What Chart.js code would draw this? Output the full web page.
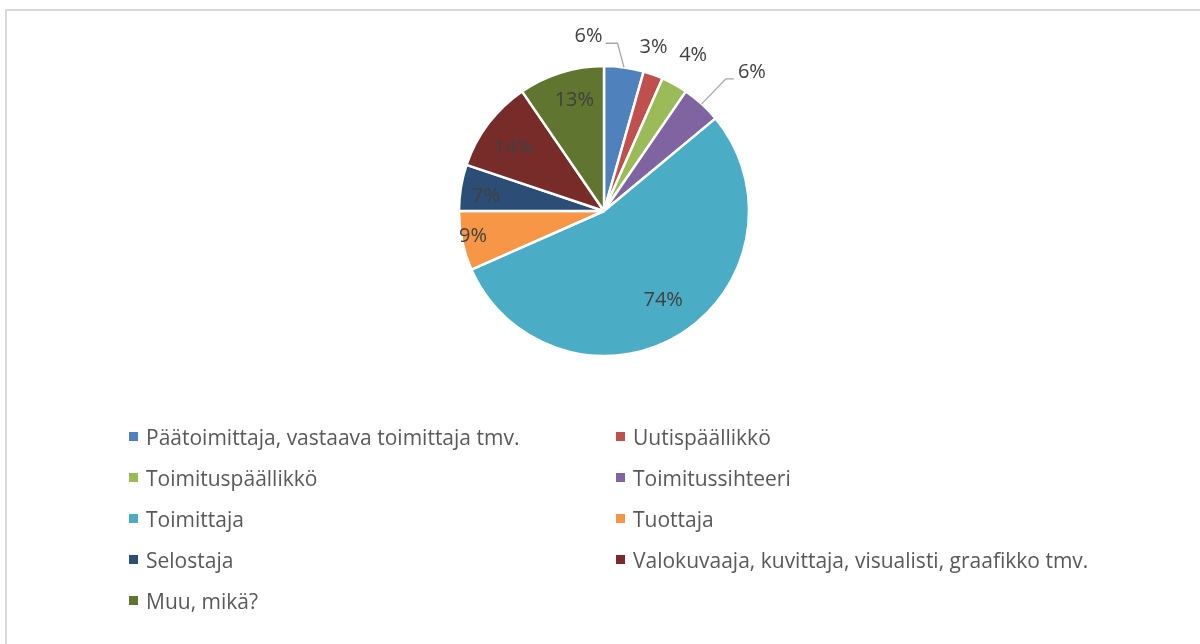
<!DOCTYPE html>
<html>
<head>
<meta charset="utf-8">
<script src="https://cdn.jsdelivr.net/npm/chart.js@4.4.1/dist/chart.umd.min.js"></script>
<style>
  html, body { margin: 0; padding: 0; background: #fff; overflow: hidden; }
  body { width: 1200px; height: 644px; position: relative; font-family: "Open Sans", "Noto Sans", sans-serif; }
  #frame { position: absolute; left: 5px; top: 9px; width: 1300px; height: 700px; border: 2px solid #d9d9d9; box-sizing: border-box; }
  #pie { position: absolute; left: 0; top: 0; }
  #legend { position: absolute; left: 129px; top: 416px; width: 1000px; display: grid; grid-template-columns: 487px 500px; grid-auto-rows: 41px; }
  .item { display: flex; align-items: center; height: 41px; color: #595959; font-size: 21px; white-space: nowrap; }
  .box { width: 9px; height: 9px; margin-right: 8px; flex: none; }
</style>
</head>
<body>
<div id="frame"></div>
<canvas id="pie" width="1200" height="644"></canvas>
<div id="legend"></div>
<script>
const roles = [
  "Päätoimittaja, vastaava toimittaja tmv.",
  "Uutispäällikkö",
  "Toimituspäällikkö",
  "Toimitussihteeri",
  "Toimittaja",
  "Tuottaja",
  "Selostaja",
  "Valokuvaaja, kuvittaja, visualisti, graafikko tmv.",
  "Muu, mikä?"
];
const shares = [6, 3, 4, 6, 74, 9, 7, 14, 13];
const sliceColors = ["#4f81bd", "#c0504d", "#9bbb59", "#8064a2", "#4bacc6", "#f79646", "#2c4d75", "#772c2a", "#5f7530"];

// label placement per slice: r = fraction of radius, da = angle shift (deg), leader line or not
const labelPlacement = [
  { r: 1.21, da: -13, leader: "right" },
  { r: 1.18, da: -3 },
  { r: 1.24, da: 0.6 },
  { r: 1.4, da: 4.4, leader: "left" },
  { r: 0.74, da: -1.7 },
  { r: 0.92, da: 1.1 },
  { r: 0.82, da: -2.3 },
  { r: 0.76, da: -2.3 },
  { r: 0.79, da: 2.2 }
];

const pieLabels = {
  id: "pieLabels",
  afterDatasetsDraw(chart) {
    const ctx = chart.ctx;
    const arcs = chart.getDatasetMeta(0).data;
    ctx.save();
    ctx.font = "20px 'Open Sans', 'Noto Sans', sans-serif";
    ctx.textAlign = "center";
    ctx.textBaseline = "middle";
    arcs.forEach((arc, i) => {
      const { x, y, startAngle, endAngle, outerRadius } = arc.getProps(["x", "y", "startAngle", "endAngle", "outerRadius"], true);
      const p = labelPlacement[i];
      const mid = (startAngle + endAngle) / 2;
      const a = mid + p.da * Math.PI / 180;
      const tx = x + Math.cos(a) * outerRadius * p.r;
      const ty = y + Math.sin(a) * outerRadius * p.r;
      const text = shares[i] + "%";
      ctx.fillStyle = "#404040";
      ctx.fillText(text, tx, ty);
      if (p.leader) {
        const w = ctx.measureText(text).width;
        const ex = x + Math.cos(mid) * outerRadius;
        const ey = y + Math.sin(mid) * outerRadius;
        const sx = p.leader === "right" ? tx + w / 2 + 3 : tx - w / 2 - 4;
        const sy = ty + 7;
        const kx = p.leader === "right" ? sx + 12 : sx - 8;
        ctx.strokeStyle = "#a6a6a6";
        ctx.lineWidth = 1.3;
        ctx.beginPath();
        ctx.moveTo(sx, sy);
        ctx.lineTo(kx, sy);
        ctx.lineTo(ex, ey);
        ctx.stroke();
      }
    });
    ctx.restore();
  }
};

new Chart(document.getElementById("pie"), {
  type: "pie",
  data: {
    labels: roles,
    datasets: [{
      data: shares,
      backgroundColor: sliceColors,
      borderColor: "#ffffff",
      borderWidth: 2.5,
      radius: 145
    }]
  },
  options: {
    responsive: false,
    animation: false,
    layout: { padding: { left: 8, right: 0, top: 0, bottom: 222 } },
    plugins: {
      legend: { display: false },
      tooltip: { enabled: false }
    }
  },
  plugins: [pieLabels]
});

const legend = document.getElementById("legend");
roles.forEach((name, i) => {
  const item = document.createElement("div");
  item.className = "item";
  const box = document.createElement("span");
  box.className = "box";
  box.style.background = sliceColors[i];
  item.appendChild(box);
  item.appendChild(document.createTextNode(name));
  legend.appendChild(item);
});
</script>
</body>
</html>
